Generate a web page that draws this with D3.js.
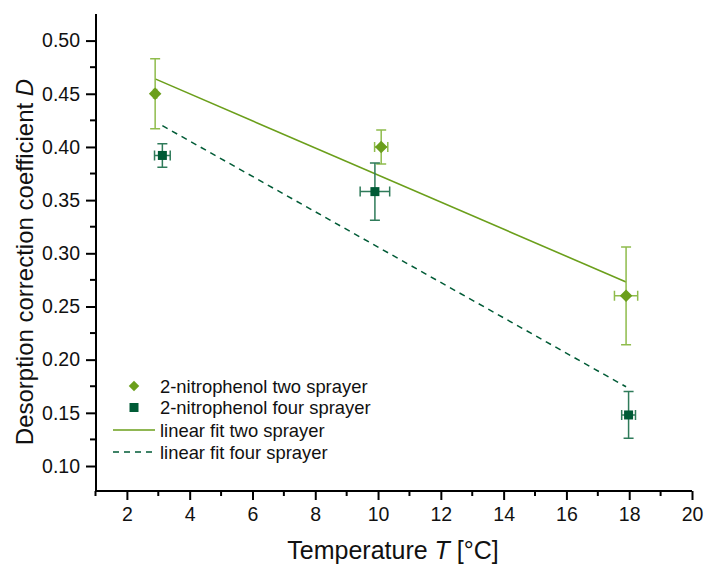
<!DOCTYPE html>
<html>
<head>
<meta charset="utf-8">
<script src="https://cdn.jsdelivr.net/npm/d3@7"></script>
<style>
  body { margin: 0; background: #fff; }
  text { font-family: "Liberation Sans", Arial, sans-serif; fill: #111; }
</style>
</head>
<body>
<script>
const twoT = [2.9, 10.1, 17.9];
const twoD = [0.450, 0.400, 0.260];
const twoErrT = [0.05, 0.21, 0.37];
const twoErrD = [0.033, 0.016, 0.046];

const fourT = [3.13, 9.9, 17.98];
const fourD = [0.392, 0.358, 0.148];
const fourErrT = [0.25, 0.47, 0.22];
const fourErrD = [0.011, 0.027, 0.022];

// linear fit end points
const fitTwoT = [2.9, 17.9];
const fitTwoD = [0.464, 0.273];
const fitFourT = [3.13, 17.9];
const fitFourD = [0.420, 0.1745];

const xTicks = [2, 4, 6, 8, 10, 12, 14, 16, 18, 20];
const yTicks = [0.10, 0.15, 0.20, 0.25, 0.30, 0.35, 0.40, 0.45, 0.50];

const legendLabels = ["2-nitrophenol two sprayer", "2-nitrophenol four sprayer",
  "linear fit two sprayer", "linear fit four sprayer"];

const colTwo = "#6b9f1b", colTwoErr = "#8fbc4c";
const colFour = "#005b36", colFourErr = "#2f7b5a";

const W = 704, H = 567;
const mLeft = 96, mRight = 692, mTop = 14, mBottom = 491;

const svg = d3.select("body").append("svg")
  .attr("width", W).attr("height", H);

const x = d3.scaleLinear().domain([1, 20]).range([mLeft - 0.5, mRight]);
const y = d3.scaleLinear().domain([0.0765, 0.525]).range([mBottom, mTop]);

// axes
const xAxis = d3.axisBottom(x).tickValues(xTicks).tickSize(9).tickPadding(7)
  .tickFormat(d3.format("d"));
const gx = svg.append("g").attr("transform", `translate(0,${mBottom})`).call(xAxis);
gx.append("g").selectAll("line")
  .data(d3.range(1, 20, 2))
  .enter().append("line")
  .attr("x1", d => x(d)).attr("x2", d => x(d))
  .attr("y1", 0).attr("y2", 5);

const yAxis = d3.axisLeft(y).tickValues(yTicks).tickSize(10).tickPadding(6)
  .tickFormat(d3.format(".2f"));
const gy = svg.append("g").attr("transform", `translate(${mLeft},0)`).call(yAxis);
gy.append("g").selectAll("line")
  .data(d3.range(0.125, 0.5, 0.05))
  .enter().append("line")
  .attr("x1", -6).attr("x2", 0)
  .attr("y1", d => y(d)).attr("y2", d => y(d));

[gx, gy].forEach(g => {
  g.select(".domain").attr("stroke", "#000").attr("stroke-width", 2);
  g.selectAll("line").attr("stroke", "#000").attr("stroke-width", 2);
  g.selectAll("text").attr("font-size", 19.5).attr("fill", "#111")
    .attr("font-family", "Liberation Sans, Arial, sans-serif");
});
gx.select(".domain").attr("d", `M${mLeft - 1},0H${mRight}`);
gy.select(".domain").attr("d", `M0,${mTop}V${mBottom + 1}`);

// axis titles
const xTitle = svg.append("text")
  .attr("x", 393).attr("y", 559)
  .attr("text-anchor", "middle").attr("font-size", 25);
xTitle.append("tspan").text("Temperature ");
xTitle.append("tspan").attr("font-style", "italic").text("T");
xTitle.append("tspan").text(" [°C]");

const yTitle = svg.append("text")
  .attr("transform", "translate(33,262) rotate(-90)")
  .attr("text-anchor", "middle").attr("font-size", 24);
yTitle.append("tspan").text("Desorption correction coefficient ");
yTitle.append("tspan").attr("font-style", "italic").text("D");

// fit lines
const line = d3.line().x(d => x(d[0])).y(d => y(d[1]));
svg.append("path")
  .attr("d", line(d3.zip(fitTwoT, fitTwoD)))
  .attr("fill", "none").attr("stroke", colTwo).attr("stroke-width", 1.6);
svg.append("path")
  .attr("d", line(d3.zip(fitFourT, fitFourD)))
  .attr("fill", "none").attr("stroke", colFour).attr("stroke-width", 1.5)
  .attr("stroke-dasharray", "6,5");

// error bars
function errorBars(ts, ds, ets, eds, col) {
  const g = svg.append("g").attr("stroke", col).attr("stroke-width", 1.5).attr("fill", "none");
  const cap = 5;
  ts.forEach((t, i) => {
    const cx = x(t), cy = y(ds[i]);
    const y0 = y(ds[i] - eds[i]), y1 = y(ds[i] + eds[i]);
    const x0 = x(t - ets[i]), x1 = x(t + ets[i]);
    g.append("path").attr("d",
      `M${cx},${y0}V${y1}M${cx - cap},${y0}H${cx + cap}M${cx - cap},${y1}H${cx + cap}` +
      `M${x0},${cy}H${x1}M${x0},${cy - cap}V${cy + cap}M${x1},${cy - cap}V${cy + cap}`);
  });
}
errorBars(twoT, twoD, twoErrT, twoErrD, colTwoErr);
errorBars(fourT, fourD, fourErrT, fourErrD, colFourErr);

// markers
const diamond = d3.symbol().type(d3.symbolDiamond2).size(100);
svg.append("g").selectAll("path")
  .data(d3.zip(twoT, twoD))
  .enter().append("path")
  .attr("d", diamond)
  .attr("transform", d => `translate(${x(d[0])},${y(d[1])})`)
  .attr("fill", colTwo);

svg.append("g").selectAll("rect")
  .data(d3.zip(fourT, fourD))
  .enter().append("rect")
  .attr("x", d => x(d[0]) - 4.5).attr("y", d => y(d[1]) - 4.5)
  .attr("width", 9).attr("height", 9)
  .attr("fill", colFour);

// legend
const lg = svg.append("g");
const rowY = [386, 407.5, 430, 452];
lg.append("path").attr("d", diamond.size(70))
  .attr("transform", `translate(134,${rowY[0]})`).attr("fill", colTwo);
lg.append("rect").attr("x", 129.5).attr("y", rowY[1] - 4.5)
  .attr("width", 9).attr("height", 9).attr("fill", colFour);
lg.append("line").attr("x1", 113).attr("x2", 155)
  .attr("y1", rowY[2]).attr("y2", rowY[2])
  .attr("stroke", colTwo).attr("stroke-width", 1.6);
lg.append("line").attr("x1", 113).attr("x2", 155)
  .attr("y1", rowY[3]).attr("y2", rowY[3])
  .attr("stroke", colFour).attr("stroke-width", 1.5).attr("stroke-dasharray", "6,5");
lg.selectAll("text")
  .data(legendLabels)
  .enter().append("text")
  .attr("x", 160).attr("y", (d, i) => rowY[i] + 6.5)
  .attr("font-size", 18.4)
  .text(d => d);
</script>
</body>
</html>
